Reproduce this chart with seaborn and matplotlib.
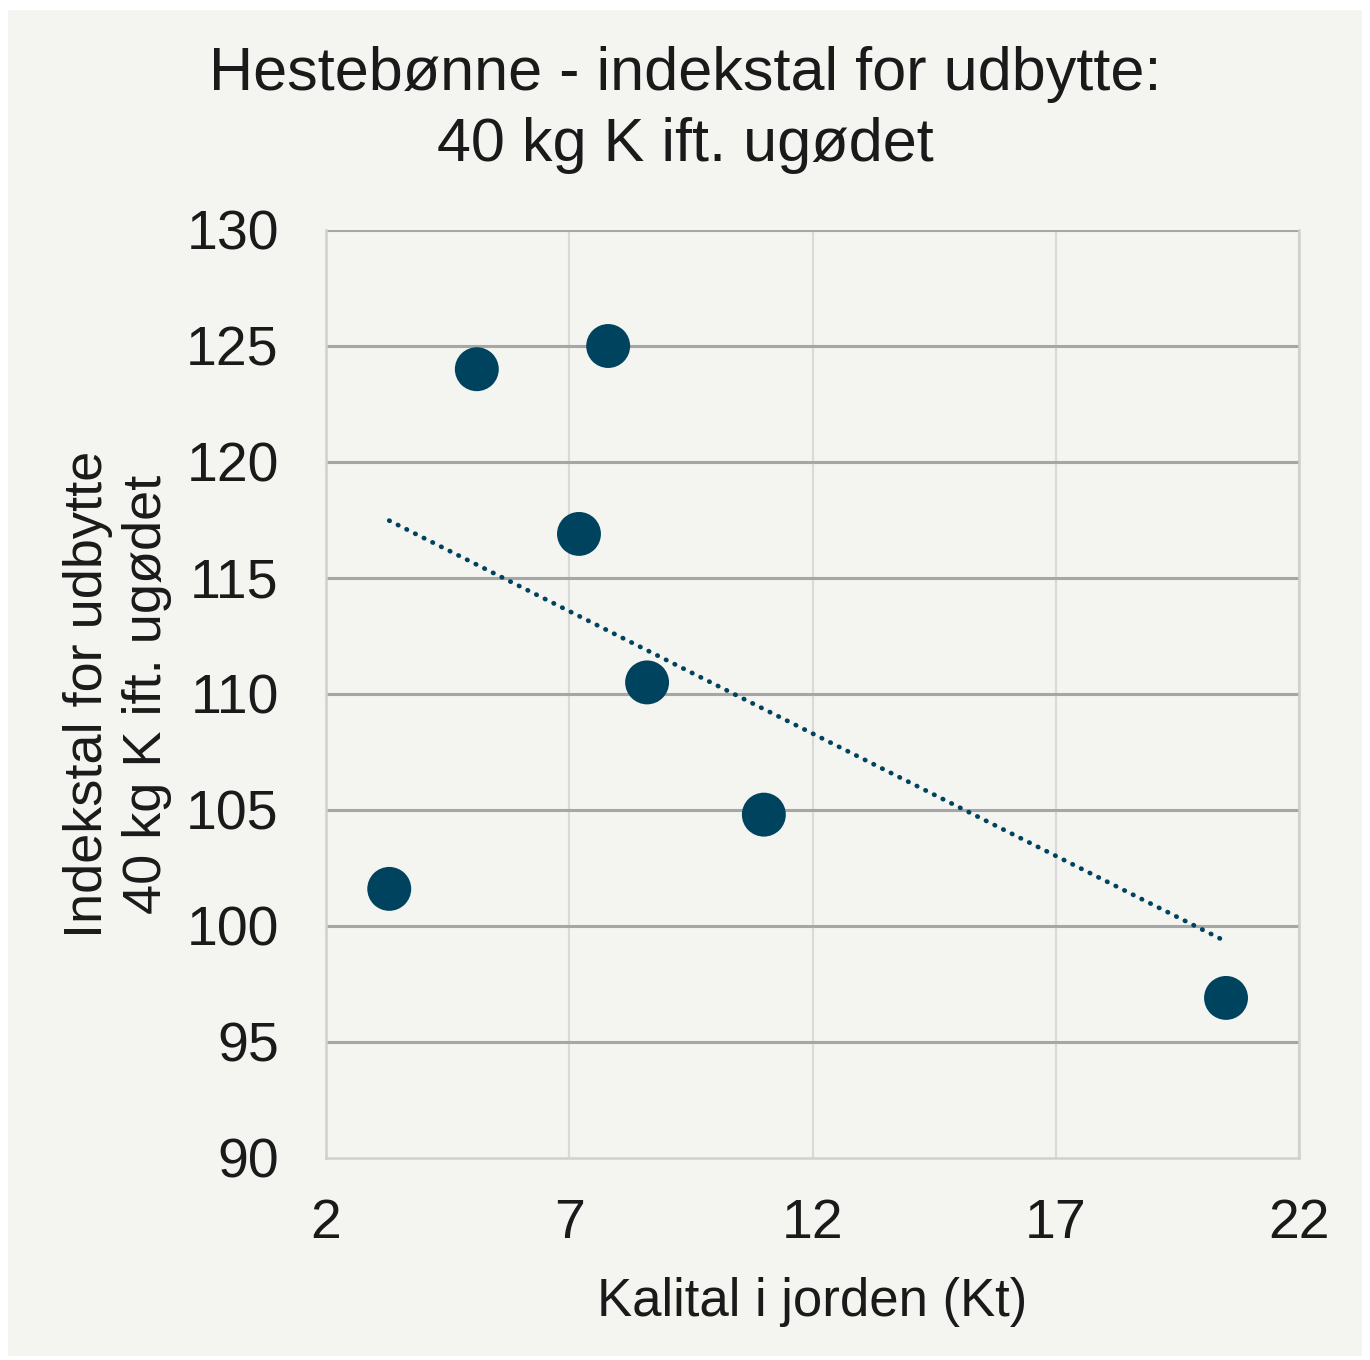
import numpy as np
import pandas as pd
import matplotlib
matplotlib.use("Agg")
import matplotlib.pyplot as plt
import seaborn as sns

# --- Data ---
kalital = [3.3, 5.1, 7.8, 7.2, 8.6, 11.0, 20.5]
indekstal = [101.6, 124.0, 125.0, 116.9, 110.5, 104.8, 96.9]
x_ticks = [2, 7, 12, 17, 22]
y_ticks = [90, 95, 100, 105, 110, 115, 120, 125, 130]

TITLE = "Hestebønne - indekstal for udbytte:\n40 kg K ift. ugødet"
XLABEL = "Kalital i jorden (Kt)"
YLABEL = "Indekstal for udbytte\n40 kg K ift. ugødet"

BG = "#F4F4F0"
DOT = "#00435F"

sns.set_theme(style="white")
plt.rcParams["font.family"] = ["Liberation Sans", "DejaVu Sans"]

df = pd.DataFrame({"Kt": kalital, "Indeks": indekstal})

fig = plt.figure(figsize=(13.7, 13.6), dpi=100, facecolor="white")
# light panel with a thin white margin
fig.patches.append(plt.Rectangle((8 / 1370, 4 / 1360), 1354 / 1370, 1346 / 1360,
                                 transform=fig.transFigure, facecolor=BG,
                                 edgecolor="none", zorder=-10))
ax = fig.add_axes([326 / 1370, 1 - 1158 / 1360, 973 / 1370, 928 / 1360])
ax.set_facecolor(BG)

# scatter + linear trendline (fit done by seaborn)
sns.regplot(data=df, x="Kt", y="Indeks", ax=ax, ci=None,
            scatter_kws=dict(s=1000, color=DOT, edgecolor="none", alpha=1, zorder=4),
            line_kws=dict(color=DOT, lw=3.4, linestyle=(0, (0.1, 1.95)),
                          dash_capstyle="round", zorder=3))

ax.set_xlim(2, 22)
ax.set_ylim(90, 130)
ax.set_xticks(x_ticks)
ax.set_yticks(y_ticks)
ax.tick_params(axis="both", labelsize=40, length=0, colors="#1a1a1a")
ax.tick_params(axis="x", pad=29)
ax.tick_params(axis="y", pad=34)

ax.grid(axis="y", color="#A6A6A6", lw=2.2)
ax.grid(axis="x", color="#D9D9D9", lw=1.6)
ax.get_ygridlines()[0].set_visible(False)
ax.set_axisbelow(True)

for side in ["left", "right", "bottom"]:
    ax.spines[side].set_visible(True)
    ax.spines[side].set_color("#D0D0D0")
    ax.spines[side].set_linewidth(1.8)
ax.spines["top"].set_visible(False)

ax.set_xlabel(XLABEL, fontsize=38, labelpad=19, color="#1a1a1a")
ax.set_ylabel(YLABEL, fontsize=39, labelpad=10, color="#1a1a1a", linespacing=1.25)
fig.text(0.5, 1 - 110 / 1360, TITLE, ha="center", va="center", fontsize=44,
         color="#1a1a1a", linespacing=1.32)

plt.savefig("out.png", dpi=100, facecolor="white")
